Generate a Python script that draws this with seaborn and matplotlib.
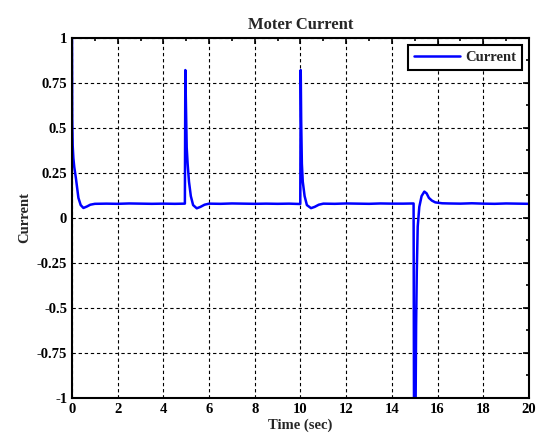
import numpy as np
import pandas as pd
import matplotlib
matplotlib.use('Agg')
import matplotlib.pyplot as plt
from matplotlib.ticker import MultipleLocator
import seaborn as sns

# Values
time_sec = [0.0, 0.01, 0.03, 0.06, 0.1, 0.17, 0.28, 0.38, 0.5, 0.65, 0.8, 1.0,
            1.5, 2.0, 2.5, 3.0, 3.5, 4.0, 4.5, 4.94,
            4.96, 4.99, 5.02, 5.06, 5.12, 5.2, 5.3, 5.46, 5.62, 5.8, 6.0,
            6.5, 7.0, 7.5, 8.0, 8.5, 9.0, 9.5, 9.99,
            10.01, 10.03, 10.06, 10.1, 10.18, 10.28, 10.46, 10.62, 10.8, 11.0,
            11.5, 12.0, 12.5, 13.0, 13.5, 14.0, 14.5, 14.95,
            14.97, 15.03, 15.06, 15.09, 15.13, 15.2, 15.3, 15.42, 15.52, 15.62,
            15.75, 15.9, 16.2, 16.5, 17.0, 17.5, 18.0, 18.5, 19.0, 19.5, 20.0]
current = [1.05, 0.55, 0.4, 0.33, 0.28, 0.22, 0.11, 0.07, 0.054, 0.062, 0.072, 0.077,
           0.078, 0.077, 0.079, 0.078, 0.077, 0.078, 0.077, 0.078,
           0.82, 0.6, 0.39, 0.3, 0.2, 0.12, 0.07, 0.052, 0.06, 0.072, 0.078,
           0.077, 0.079, 0.078, 0.077, 0.078, 0.077, 0.078, 0.076,
           0.82, 0.54, 0.3, 0.2, 0.12, 0.07, 0.053, 0.06, 0.072, 0.078,
           0.077, 0.079, 0.078, 0.077, 0.079, 0.078, 0.078, 0.079,
           -1.2, -1.2, -0.6, -0.3, -0.05, 0.06, 0.12, 0.145, 0.135, 0.11,
           0.095, 0.085, 0.08, 0.079, 0.078, 0.08, 0.078, 0.077, 0.079, 0.078, 0.077]

y_ticks = [-1, -0.75, -0.5, -0.25, 0, 0.25, 0.5, 0.75, 1]
y_labels = ['-1', '-0.75', '-0.5', '-0.25', '0', '0.25', '0.5', '0.75', '1']
x_ticks = list(range(0, 21, 2))

df = pd.DataFrame({'Time': time_sec, 'Current': current})

sns.set_style('white')
plt.rcParams['font.family'] = ['Liberation Serif', 'DejaVu Serif']
plt.rcParams['font.weight'] = 'bold'

fig = plt.figure(figsize=(5.39, 4.38), dpi=100)
ax = fig.add_axes([0.1336, 0.092, 0.8478, 0.822])

sns.lineplot(data=df, x='Time', y='Current', ax=ax, color='#0000ff',
             linewidth=1.8, estimator=None, sort=False, label='Current')

ax.set_xlim(0, 20)
ax.set_ylim(-1, 1)
ax.set_yticks(y_ticks)
ax.set_yticklabels(y_labels)
ax.set_xticks(x_ticks)
ax.set_xticklabels([str(v) for v in x_ticks])
ax.xaxis.set_minor_locator(MultipleLocator(1))
ax.yaxis.set_minor_locator(MultipleLocator(0.125))

ax.tick_params(which='both', direction='in', top=True, right=True, colors='black',
               labelsize=10.5)
ax.tick_params(which='major', length=4, width=1.2)
ax.tick_params(which='minor', length=2.5, width=1.2)
for lbl in ax.get_xticklabels() + ax.get_yticklabels():
    lbl.set_fontweight('bold')

ax.grid(True, which='major', color='black', linestyle=(0, (3, 2.5)), linewidth=0.8)
for s in ax.spines.values():
    s.set_visible(True)
    s.set_color('black')
    s.set_linewidth(1.5)

ax.set_title('Moter Current', fontsize=12, fontweight='bold', pad=6)
ax.set_xlabel('Time (sec)', fontsize=10.5, fontweight='bold', labelpad=2)
ax.set_ylabel('Current', fontsize=10.5, fontweight='bold', labelpad=4)

leg = ax.legend(loc='upper right', fancybox=False, framealpha=1, edgecolor='black',
                prop={'weight': 'bold', 'size': 10.5}, borderaxespad=0.5,
                handlelength=3.2, handletextpad=0.3)
leg.get_frame().set_linewidth(1.5)

fig.savefig('out.png', dpi=100)
